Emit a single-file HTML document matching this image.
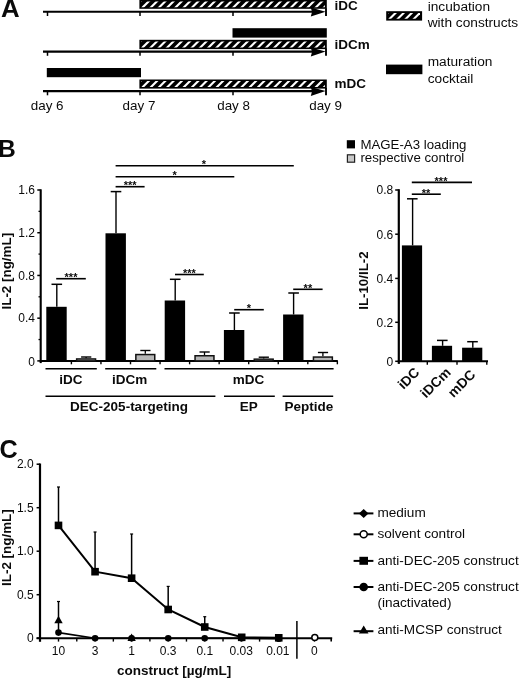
<!DOCTYPE html>
<html lang="en"><head><meta charset="utf-8"><title>Figure</title>
<style>
html,body{margin:0;padding:0;background:#fff;}
body{width:520px;height:678px;overflow:hidden;}
svg{display:block;font-family:"Liberation Sans", Arial, Helvetica, sans-serif;}
svg text{fill:#0a0a0a;}
</style></head><body>
<svg width="520" height="678" viewBox="0 0 520 678">
<rect x="0" y="0" width="520" height="678" fill="#fff"/>
<text x="0.9" y="17.4" font-size="25.8" font-weight="bold" text-anchor="start" >A</text>
<text x="-2.0" y="156.7" font-size="24.6" font-weight="bold" text-anchor="start" >B</text>
<text x="-0.6" y="457.6" font-size="25.2" font-weight="bold" text-anchor="start" >C</text>
<line x1="43" y1="11.8" x2="316" y2="11.8" stroke="#000" stroke-width="2.1" />
<polygon points="310.8,7.600000000000001 325.6,11.8 310.8,16.6 312.0,12.100000000000001" fill="#000"/>
<line x1="47.5" y1="11.8" x2="47.5" y2="16.0" stroke="#000" stroke-width="1.5" />
<line x1="140" y1="11.8" x2="140" y2="16.0" stroke="#000" stroke-width="1.5" />
<line x1="233" y1="11.8" x2="233" y2="16.0" stroke="#000" stroke-width="1.5" />
<line x1="326" y1="8.3" x2="326" y2="16.0" stroke="#000" stroke-width="1.9" />
<rect x="139.4" y="-0.2" width="187.4" height="9.0" fill="#000"/>
<clipPath id="hc1"><rect x="141.3" y="1.4000000000000001" width="183.59999999999997" height="5.800000000000001"/></clipPath>
<g clip-path="url(#hc1)" stroke="#fff" stroke-width="2.1">
<line x1="131.00" y1="10.80" x2="144.00" y2="-2.20"/>
<line x1="139.25" y1="10.80" x2="152.25" y2="-2.20"/>
<line x1="147.50" y1="10.80" x2="160.50" y2="-2.20"/>
<line x1="155.75" y1="10.80" x2="168.75" y2="-2.20"/>
<line x1="164.00" y1="10.80" x2="177.00" y2="-2.20"/>
<line x1="172.25" y1="10.80" x2="185.25" y2="-2.20"/>
<line x1="180.50" y1="10.80" x2="193.50" y2="-2.20"/>
<line x1="188.75" y1="10.80" x2="201.75" y2="-2.20"/>
<line x1="197.00" y1="10.80" x2="210.00" y2="-2.20"/>
<line x1="205.25" y1="10.80" x2="218.25" y2="-2.20"/>
<line x1="213.50" y1="10.80" x2="226.50" y2="-2.20"/>
<line x1="221.75" y1="10.80" x2="234.75" y2="-2.20"/>
<line x1="230.00" y1="10.80" x2="243.00" y2="-2.20"/>
<line x1="238.25" y1="10.80" x2="251.25" y2="-2.20"/>
<line x1="246.50" y1="10.80" x2="259.50" y2="-2.20"/>
<line x1="254.75" y1="10.80" x2="267.75" y2="-2.20"/>
<line x1="263.00" y1="10.80" x2="276.00" y2="-2.20"/>
<line x1="271.25" y1="10.80" x2="284.25" y2="-2.20"/>
<line x1="279.50" y1="10.80" x2="292.50" y2="-2.20"/>
<line x1="287.75" y1="10.80" x2="300.75" y2="-2.20"/>
<line x1="296.00" y1="10.80" x2="309.00" y2="-2.20"/>
<line x1="304.25" y1="10.80" x2="317.25" y2="-2.20"/>
<line x1="312.50" y1="10.80" x2="325.50" y2="-2.20"/>
<line x1="320.75" y1="10.80" x2="333.75" y2="-2.20"/>
<line x1="329.00" y1="10.80" x2="342.00" y2="-2.20"/>
</g>
<text x="334.5" y="9.7" font-size="13.5" font-weight="bold" text-anchor="start" >iDC</text>
<line x1="43" y1="51.6" x2="316" y2="51.6" stroke="#000" stroke-width="2.1" />
<polygon points="310.8,47.4 325.6,51.6 310.8,56.4 312.0,51.9" fill="#000"/>
<line x1="47.5" y1="51.6" x2="47.5" y2="55.800000000000004" stroke="#000" stroke-width="1.5" />
<line x1="140" y1="51.6" x2="140" y2="55.800000000000004" stroke="#000" stroke-width="1.5" />
<line x1="233" y1="51.6" x2="233" y2="55.800000000000004" stroke="#000" stroke-width="1.5" />
<line x1="326" y1="48.6" x2="326" y2="55.800000000000004" stroke="#000" stroke-width="1.9" />
<rect x="139.4" y="39.8" width="187.4" height="9.300000000000004" fill="#000"/>
<clipPath id="hc2"><rect x="141.3" y="41.4" width="183.59999999999997" height="6.100000000000001"/></clipPath>
<g clip-path="url(#hc2)" stroke="#fff" stroke-width="2.1">
<line x1="130.70" y1="51.10" x2="144.00" y2="37.80"/>
<line x1="138.95" y1="51.10" x2="152.25" y2="37.80"/>
<line x1="147.20" y1="51.10" x2="160.50" y2="37.80"/>
<line x1="155.45" y1="51.10" x2="168.75" y2="37.80"/>
<line x1="163.70" y1="51.10" x2="177.00" y2="37.80"/>
<line x1="171.95" y1="51.10" x2="185.25" y2="37.80"/>
<line x1="180.20" y1="51.10" x2="193.50" y2="37.80"/>
<line x1="188.45" y1="51.10" x2="201.75" y2="37.80"/>
<line x1="196.70" y1="51.10" x2="210.00" y2="37.80"/>
<line x1="204.95" y1="51.10" x2="218.25" y2="37.80"/>
<line x1="213.20" y1="51.10" x2="226.50" y2="37.80"/>
<line x1="221.45" y1="51.10" x2="234.75" y2="37.80"/>
<line x1="229.70" y1="51.10" x2="243.00" y2="37.80"/>
<line x1="237.95" y1="51.10" x2="251.25" y2="37.80"/>
<line x1="246.20" y1="51.10" x2="259.50" y2="37.80"/>
<line x1="254.45" y1="51.10" x2="267.75" y2="37.80"/>
<line x1="262.70" y1="51.10" x2="276.00" y2="37.80"/>
<line x1="270.95" y1="51.10" x2="284.25" y2="37.80"/>
<line x1="279.20" y1="51.10" x2="292.50" y2="37.80"/>
<line x1="287.45" y1="51.10" x2="300.75" y2="37.80"/>
<line x1="295.70" y1="51.10" x2="309.00" y2="37.80"/>
<line x1="303.95" y1="51.10" x2="317.25" y2="37.80"/>
<line x1="312.20" y1="51.10" x2="325.50" y2="37.80"/>
<line x1="320.45" y1="51.10" x2="333.75" y2="37.80"/>
<line x1="328.70" y1="51.10" x2="342.00" y2="37.80"/>
</g>
<text x="334.5" y="48.7" font-size="13.5" font-weight="bold" text-anchor="start" >iDCm</text>
<line x1="43" y1="91.1" x2="316" y2="91.1" stroke="#000" stroke-width="2.1" />
<polygon points="310.8,86.89999999999999 325.6,91.1 310.8,95.89999999999999 312.0,91.39999999999999" fill="#000"/>
<line x1="47.5" y1="91.1" x2="47.5" y2="95.3" stroke="#000" stroke-width="1.5" />
<line x1="140" y1="91.1" x2="140" y2="95.3" stroke="#000" stroke-width="1.5" />
<line x1="233" y1="91.1" x2="233" y2="95.3" stroke="#000" stroke-width="1.5" />
<line x1="326" y1="88.1" x2="326" y2="95.3" stroke="#000" stroke-width="1.9" />
<rect x="139.4" y="79.5" width="187.4" height="9.099999999999994" fill="#000"/>
<clipPath id="hc3"><rect x="141.3" y="81.1" width="183.59999999999997" height="5.900000000000006"/></clipPath>
<g clip-path="url(#hc3)" stroke="#fff" stroke-width="2.1">
<line x1="130.90" y1="90.60" x2="144.00" y2="77.50"/>
<line x1="139.15" y1="90.60" x2="152.25" y2="77.50"/>
<line x1="147.40" y1="90.60" x2="160.50" y2="77.50"/>
<line x1="155.65" y1="90.60" x2="168.75" y2="77.50"/>
<line x1="163.90" y1="90.60" x2="177.00" y2="77.50"/>
<line x1="172.15" y1="90.60" x2="185.25" y2="77.50"/>
<line x1="180.40" y1="90.60" x2="193.50" y2="77.50"/>
<line x1="188.65" y1="90.60" x2="201.75" y2="77.50"/>
<line x1="196.90" y1="90.60" x2="210.00" y2="77.50"/>
<line x1="205.15" y1="90.60" x2="218.25" y2="77.50"/>
<line x1="213.40" y1="90.60" x2="226.50" y2="77.50"/>
<line x1="221.65" y1="90.60" x2="234.75" y2="77.50"/>
<line x1="229.90" y1="90.60" x2="243.00" y2="77.50"/>
<line x1="238.15" y1="90.60" x2="251.25" y2="77.50"/>
<line x1="246.40" y1="90.60" x2="259.50" y2="77.50"/>
<line x1="254.65" y1="90.60" x2="267.75" y2="77.50"/>
<line x1="262.90" y1="90.60" x2="276.00" y2="77.50"/>
<line x1="271.15" y1="90.60" x2="284.25" y2="77.50"/>
<line x1="279.40" y1="90.60" x2="292.50" y2="77.50"/>
<line x1="287.65" y1="90.60" x2="300.75" y2="77.50"/>
<line x1="295.90" y1="90.60" x2="309.00" y2="77.50"/>
<line x1="304.15" y1="90.60" x2="317.25" y2="77.50"/>
<line x1="312.40" y1="90.60" x2="325.50" y2="77.50"/>
<line x1="320.65" y1="90.60" x2="333.75" y2="77.50"/>
<line x1="328.90" y1="90.60" x2="342.00" y2="77.50"/>
</g>
<text x="334.5" y="87.6" font-size="13.5" font-weight="bold" text-anchor="start" >mDC</text>
<rect x="232.5" y="28.2" width="94.30000000000001" height="9.4" fill="#000"/>
<rect x="46.8" y="68" width="94.2" height="9.2" fill="#000"/>
<text x="47.2" y="110" font-size="13.4" text-anchor="middle" >day 6</text>
<text x="139" y="110" font-size="13.4" text-anchor="middle" >day 7</text>
<text x="233.6" y="110" font-size="13.4" text-anchor="middle" >day 8</text>
<text x="325.6" y="110" font-size="13.4" text-anchor="middle" >day 9</text>
<rect x="386.2" y="11.2" width="35.900000000000034" height="9.400000000000002" fill="#000"/>
<clipPath id="hc4"><rect x="388.3" y="13.0" width="31.69999999999999" height="5.800000000000001"/></clipPath>
<g clip-path="url(#hc4)" stroke="#fff" stroke-width="2.1">
<line x1="377.80" y1="22.60" x2="391.20" y2="9.20"/>
<line x1="385.90" y1="22.60" x2="399.30" y2="9.20"/>
<line x1="394.00" y1="22.60" x2="407.40" y2="9.20"/>
<line x1="402.10" y1="22.60" x2="415.50" y2="9.20"/>
<line x1="410.20" y1="22.60" x2="423.60" y2="9.20"/>
<line x1="418.30" y1="22.60" x2="431.70" y2="9.20"/>
<line x1="426.40" y1="22.60" x2="439.80" y2="9.20"/>
</g>
<rect x="386" y="64.6" width="36.4" height="9.6" fill="#000"/>
<text x="427.7" y="10.6" font-size="13.7" text-anchor="start" >incubation</text>
<text x="427.7" y="27.1" font-size="13.7" text-anchor="start" >with constructs</text>
<text x="427.7" y="66.2" font-size="13.7" text-anchor="start" >maturation</text>
<text x="427.7" y="82.7" font-size="13.7" text-anchor="start" >cocktail</text>
<line x1="40.7" y1="189.3" x2="40.7" y2="363.09999999999997" stroke="#000" stroke-width="2.1" />
<line x1="39.7" y1="360.9" x2="337.8" y2="360.9" stroke="#000" stroke-width="2" />
<line x1="37.300000000000004" y1="360.9" x2="40.7" y2="360.9" stroke="#000" stroke-width="1.5" />
<text x="35" y="365.7" font-size="12" text-anchor="end" >0</text>
<line x1="37.300000000000004" y1="318.17499999999995" x2="40.7" y2="318.17499999999995" stroke="#000" stroke-width="1.5" />
<text x="35" y="322.37499999999994" font-size="12" text-anchor="end" >0.4</text>
<line x1="37.300000000000004" y1="275.45" x2="40.7" y2="275.45" stroke="#000" stroke-width="1.5" />
<text x="35" y="279.65" font-size="12" text-anchor="end" >0.8</text>
<line x1="37.300000000000004" y1="232.725" x2="40.7" y2="232.725" stroke="#000" stroke-width="1.5" />
<text x="35" y="236.92499999999998" font-size="12" text-anchor="end" >1.2</text>
<line x1="37.300000000000004" y1="190.0" x2="40.7" y2="190.0" stroke="#000" stroke-width="1.5" />
<text x="35" y="194.2" font-size="12" text-anchor="end" >1.6</text>
<line x1="38.5" y1="339.53749999999997" x2="40.7" y2="339.53749999999997" stroke="#000" stroke-width="1.3" />
<line x1="38.5" y1="296.8125" x2="40.7" y2="296.8125" stroke="#000" stroke-width="1.3" />
<line x1="38.5" y1="254.08749999999998" x2="40.7" y2="254.08749999999998" stroke="#000" stroke-width="1.3" />
<line x1="38.5" y1="211.3625" x2="40.7" y2="211.3625" stroke="#000" stroke-width="1.3" />
<text x="11.0" y="271.2" font-size="13.4" font-weight="bold" text-anchor="middle" transform="rotate(-90 11.0 271.2)" >IL-2 [ng/mL]</text>
<rect x="46.3" y="306.8" width="20.4" height="54.099999999999966" fill="#000"/>
<line x1="56.8" y1="284.3" x2="56.8" y2="306.8" stroke="#000" stroke-width="1.4" />
<line x1="51.5" y1="284.3" x2="62.1" y2="284.3" stroke="#000" stroke-width="1.5" />
<line x1="86.1" y1="357" x2="86.1" y2="358.2" stroke="#000" stroke-width="1.3" />
<line x1="81.1" y1="357" x2="91.3" y2="357" stroke="#000" stroke-width="1.4" />
<rect x="76.64999999999999" y="358.95" width="18.9" height="1.9499999999999886" fill="#b6b6b6" stroke="#111" stroke-width="1.5"/>
<rect x="105.5" y="233.3" width="20.4" height="127.59999999999997" fill="#000"/>
<line x1="116.0" y1="191.6" x2="116.0" y2="233.3" stroke="#000" stroke-width="1.4" />
<line x1="110.7" y1="191.6" x2="121.3" y2="191.6" stroke="#000" stroke-width="1.5" />
<line x1="145.3" y1="350.5" x2="145.3" y2="353.8" stroke="#000" stroke-width="1.3" />
<line x1="140.3" y1="350.5" x2="150.5" y2="350.5" stroke="#000" stroke-width="1.4" />
<rect x="135.85000000000002" y="354.55" width="18.9" height="6.349999999999966" fill="#b6b6b6" stroke="#111" stroke-width="1.5"/>
<rect x="164.70000000000002" y="300.5" width="20.4" height="60.39999999999998" fill="#000"/>
<line x1="175.20000000000002" y1="279.3" x2="175.20000000000002" y2="300.5" stroke="#000" stroke-width="1.4" />
<line x1="169.9" y1="279.3" x2="180.5" y2="279.3" stroke="#000" stroke-width="1.5" />
<line x1="204.5" y1="352" x2="204.5" y2="355" stroke="#000" stroke-width="1.3" />
<line x1="199.5" y1="352" x2="209.7" y2="352" stroke="#000" stroke-width="1.4" />
<rect x="195.05" y="355.75" width="18.9" height="5.149999999999977" fill="#b6b6b6" stroke="#111" stroke-width="1.5"/>
<rect x="223.90000000000003" y="330" width="20.4" height="30.899999999999977" fill="#000"/>
<line x1="234.40000000000003" y1="313" x2="234.40000000000003" y2="330" stroke="#000" stroke-width="1.4" />
<line x1="229.10000000000002" y1="313" x2="239.70000000000002" y2="313" stroke="#000" stroke-width="1.5" />
<line x1="263.70000000000005" y1="357.2" x2="263.70000000000005" y2="358.4" stroke="#000" stroke-width="1.3" />
<line x1="258.70000000000005" y1="357.2" x2="268.90000000000003" y2="357.2" stroke="#000" stroke-width="1.4" />
<rect x="254.25000000000006" y="359.15" width="18.9" height="1.75" fill="#b6b6b6" stroke="#111" stroke-width="1.5"/>
<rect x="283.1" y="314.5" width="20.4" height="46.39999999999998" fill="#000"/>
<line x1="293.6" y1="293" x2="293.6" y2="314.5" stroke="#000" stroke-width="1.4" />
<line x1="288.3" y1="293" x2="298.90000000000003" y2="293" stroke="#000" stroke-width="1.5" />
<line x1="322.90000000000003" y1="352.5" x2="322.90000000000003" y2="356.3" stroke="#000" stroke-width="1.3" />
<line x1="317.90000000000003" y1="352.5" x2="328.1" y2="352.5" stroke="#000" stroke-width="1.4" />
<rect x="313.45000000000005" y="357.05" width="18.9" height="3.849999999999966" fill="#b6b6b6" stroke="#111" stroke-width="1.5"/>
<line x1="71.4" y1="360.9" x2="71.4" y2="364.29999999999995" stroke="#000" stroke-width="1.4" />
<line x1="100.95" y1="360.9" x2="100.95" y2="364.29999999999995" stroke="#000" stroke-width="1.4" />
<line x1="130.5" y1="360.9" x2="130.5" y2="364.29999999999995" stroke="#000" stroke-width="1.4" />
<line x1="160.05" y1="360.9" x2="160.05" y2="364.29999999999995" stroke="#000" stroke-width="1.4" />
<line x1="189.60000000000002" y1="360.9" x2="189.60000000000002" y2="364.29999999999995" stroke="#000" stroke-width="1.4" />
<line x1="219.15" y1="360.9" x2="219.15" y2="364.29999999999995" stroke="#000" stroke-width="1.4" />
<line x1="248.70000000000002" y1="360.9" x2="248.70000000000002" y2="364.29999999999995" stroke="#000" stroke-width="1.4" />
<line x1="278.25" y1="360.9" x2="278.25" y2="364.29999999999995" stroke="#000" stroke-width="1.4" />
<line x1="307.8" y1="360.9" x2="307.8" y2="364.29999999999995" stroke="#000" stroke-width="1.4" />
<line x1="337.35" y1="360.9" x2="337.35" y2="364.29999999999995" stroke="#000" stroke-width="1.4" />
<line x1="115.6" y1="165.8" x2="293.8" y2="165.8" stroke="#000" stroke-width="1.6" />
<text x="203.8" y="168.4" font-size="11" font-weight="bold" text-anchor="middle" >*</text>
<line x1="115.6" y1="176.8" x2="234.3" y2="176.8" stroke="#000" stroke-width="1.6" />
<text x="174.6" y="179.4" font-size="11" font-weight="bold" text-anchor="middle" >*</text>
<line x1="115.6" y1="186.7" x2="144.6" y2="186.7" stroke="#000" stroke-width="1.6" />
<text x="130.2" y="189.29999999999998" font-size="11" font-weight="bold" text-anchor="middle" >***</text>
<line x1="56.2" y1="278.7" x2="85.8" y2="278.7" stroke="#000" stroke-width="1.6" />
<text x="71.0" y="281.3" font-size="11" font-weight="bold" text-anchor="middle" >***</text>
<line x1="175" y1="274.5" x2="203.8" y2="274.5" stroke="#000" stroke-width="1.6" />
<text x="189.4" y="277.1" font-size="11" font-weight="bold" text-anchor="middle" >***</text>
<line x1="234.2" y1="309.7" x2="263.8" y2="309.7" stroke="#000" stroke-width="1.6" />
<text x="249.0" y="312.3" font-size="11" font-weight="bold" text-anchor="middle" >*</text>
<line x1="293.2" y1="289.3" x2="322.6" y2="289.3" stroke="#000" stroke-width="1.6" />
<text x="307.9" y="291.90000000000003" font-size="11" font-weight="bold" text-anchor="middle" >**</text>
<line x1="45.5" y1="368.7" x2="96.8" y2="368.7" stroke="#000" stroke-width="1.5" />
<line x1="105.2" y1="368.7" x2="156.3" y2="368.7" stroke="#000" stroke-width="1.5" />
<line x1="164.5" y1="368.7" x2="333.6" y2="368.7" stroke="#000" stroke-width="1.5" />
<text x="70.9" y="383.7" font-size="13.5" font-weight="bold" text-anchor="middle" >iDC</text>
<text x="129.7" y="383.7" font-size="13.5" font-weight="bold" text-anchor="middle" >iDCm</text>
<text x="248.4" y="383.7" font-size="13.5" font-weight="bold" text-anchor="middle" >mDC</text>
<line x1="45.5" y1="396.3" x2="215.4" y2="396.3" stroke="#000" stroke-width="1.5" />
<line x1="224" y1="396.3" x2="274.8" y2="396.3" stroke="#000" stroke-width="1.5" />
<line x1="282.6" y1="396.3" x2="333.2" y2="396.3" stroke="#000" stroke-width="1.5" />
<text x="129" y="410.8" font-size="13.5" font-weight="bold" text-anchor="middle" >DEC-205-targeting</text>
<text x="248.8" y="410.8" font-size="13.5" font-weight="bold" text-anchor="middle" >EP</text>
<text x="308.8" y="410.8" font-size="13.5" font-weight="bold" text-anchor="middle" >Peptide</text>
<rect x="346.8" y="140.2" width="8.2" height="8.2" fill="#000"/>
<rect x="347.4" y="154.8" width="7.2" height="7.4" fill="#c8c8c8" stroke="#222" stroke-width="1.2"/>
<text x="360.4" y="148.8" font-size="13.25" text-anchor="start" >MAGE-A3 loading</text>
<text x="360.4" y="162.3" font-size="13.25" text-anchor="start" >respective control</text>
<line x1="398.8" y1="189.2" x2="398.8" y2="363.90000000000003" stroke="#000" stroke-width="2.2" />
<line x1="397.8" y1="361.3" x2="488" y2="361.3" stroke="#000" stroke-width="2" />
<line x1="395.2" y1="190" x2="398.8" y2="190" stroke="#000" stroke-width="1.5" />
<text x="393.2" y="194.3" font-size="12" text-anchor="end" >0.8</text>
<line x1="395.2" y1="234.2" x2="398.8" y2="234.2" stroke="#000" stroke-width="1.5" />
<text x="393.2" y="238.5" font-size="12" text-anchor="end" >0.6</text>
<line x1="395.2" y1="278.4" x2="398.8" y2="278.4" stroke="#000" stroke-width="1.5" />
<text x="393.2" y="282.7" font-size="12" text-anchor="end" >0.4</text>
<line x1="395.2" y1="322.3" x2="398.8" y2="322.3" stroke="#000" stroke-width="1.5" />
<text x="393.2" y="326.6" font-size="12" text-anchor="end" >0.2</text>
<line x1="395.2" y1="361.3" x2="398.8" y2="361.3" stroke="#000" stroke-width="1.5" />
<text x="393.2" y="365.6" font-size="12" text-anchor="end" >0</text>
<text x="368.4" y="280.6" font-size="13.3" font-weight="bold" text-anchor="middle" transform="rotate(-90 368.4 280.6)" >IL-10/IL-2</text>
<rect x="401.9" y="245.4" width="20.2" height="115.9" fill="#000"/>
<line x1="412.6" y1="198.8" x2="412.6" y2="245.4" stroke="#000" stroke-width="1.4" />
<line x1="407" y1="198.8" x2="417.6" y2="198.8" stroke="#000" stroke-width="1.5" />
<rect x="431.9" y="345.8" width="20.2" height="15.5" fill="#000"/>
<line x1="442.6" y1="340.4" x2="442.6" y2="345.8" stroke="#000" stroke-width="1.4" />
<line x1="437" y1="340.4" x2="447.6" y2="340.4" stroke="#000" stroke-width="1.5" />
<rect x="462.09999999999997" y="347.7" width="20.2" height="13.600000000000023" fill="#000"/>
<line x1="472.8" y1="341.7" x2="472.8" y2="347.7" stroke="#000" stroke-width="1.4" />
<line x1="467.2" y1="341.7" x2="477.8" y2="341.7" stroke="#000" stroke-width="1.5" />
<line x1="427.3" y1="361.3" x2="427.3" y2="364.7" stroke="#000" stroke-width="1.4" />
<line x1="457" y1="361.3" x2="457" y2="364.7" stroke="#000" stroke-width="1.4" />
<line x1="486.8" y1="361.3" x2="486.8" y2="364.7" stroke="#000" stroke-width="1.4" />
<line x1="411.8" y1="182.4" x2="472" y2="182.4" stroke="#000" stroke-width="1.6" />
<text x="441" y="185.0" font-size="11" font-weight="bold" text-anchor="middle" >***</text>
<line x1="411.8" y1="194.2" x2="440.8" y2="194.2" stroke="#000" stroke-width="1.6" />
<text x="426" y="196.79999999999998" font-size="11" font-weight="bold" text-anchor="middle" >**</text>
<text x="420.4" y="373.3" font-size="13.8" font-weight="bold" text-anchor="end" transform="rotate(-45 420.4 373.3)" >iDC</text>
<text x="451.6" y="373.3" font-size="13.8" font-weight="bold" text-anchor="end" transform="rotate(-45 451.6 373.3)" >iDCm</text>
<text x="476.4" y="375.4" font-size="13.8" font-weight="bold" text-anchor="end" transform="rotate(-45 476.4 375.4)" >mDC</text>
<line x1="40" y1="463.5" x2="40" y2="641.8000000000001" stroke="#000" stroke-width="2.2" />
<line x1="36.6" y1="638.2" x2="332.2" y2="638.2" stroke="#000" stroke-width="2" />
<line x1="331.2" y1="638.2" x2="331.2" y2="641.6" stroke="#000" stroke-width="1.6" />
<line x1="36.6" y1="638.2" x2="40" y2="638.2" stroke="#000" stroke-width="1.5" />
<text x="33.6" y="642.4000000000001" font-size="12" text-anchor="end" >0</text>
<line x1="36.6" y1="594.7" x2="40" y2="594.7" stroke="#000" stroke-width="1.5" />
<text x="33.6" y="598.9000000000001" font-size="12" text-anchor="end" >0.5</text>
<line x1="36.6" y1="551.2" x2="40" y2="551.2" stroke="#000" stroke-width="1.5" />
<text x="33.6" y="555.4000000000001" font-size="12" text-anchor="end" >1.0</text>
<line x1="36.6" y1="507.7" x2="40" y2="507.7" stroke="#000" stroke-width="1.5" />
<text x="33.6" y="511.9" font-size="12" text-anchor="end" >1.5</text>
<line x1="36.6" y1="464.2" x2="40" y2="464.2" stroke="#000" stroke-width="1.5" />
<text x="33.6" y="468.4" font-size="12" text-anchor="end" >2.0</text>
<text x="11.2" y="547.6" font-size="13.4" font-weight="bold" text-anchor="middle" transform="rotate(-90 11.2 547.6)" >IL-2 [ng/mL]</text>
<line x1="58.5" y1="638.2" x2="58.5" y2="641.6" stroke="#000" stroke-width="1.4" />
<text x="58.5" y="654.6" font-size="12" text-anchor="middle" >10</text>
<line x1="76.78" y1="638.2" x2="76.78" y2="641.6" stroke="#000" stroke-width="1.4" />
<line x1="95.06" y1="638.2" x2="95.06" y2="641.6" stroke="#000" stroke-width="1.4" />
<text x="95.06" y="654.6" font-size="12" text-anchor="middle" >3</text>
<line x1="113.34" y1="638.2" x2="113.34" y2="641.6" stroke="#000" stroke-width="1.4" />
<line x1="131.62" y1="638.2" x2="131.62" y2="641.6" stroke="#000" stroke-width="1.4" />
<text x="131.62" y="654.6" font-size="12" text-anchor="middle" >1</text>
<line x1="149.9" y1="638.2" x2="149.9" y2="641.6" stroke="#000" stroke-width="1.4" />
<line x1="168.18" y1="638.2" x2="168.18" y2="641.6" stroke="#000" stroke-width="1.4" />
<text x="168.18" y="654.6" font-size="12" text-anchor="middle" >0.3</text>
<line x1="186.46" y1="638.2" x2="186.46" y2="641.6" stroke="#000" stroke-width="1.4" />
<line x1="204.74" y1="638.2" x2="204.74" y2="641.6" stroke="#000" stroke-width="1.4" />
<text x="204.74" y="654.6" font-size="12" text-anchor="middle" >0.1</text>
<line x1="223.02" y1="638.2" x2="223.02" y2="641.6" stroke="#000" stroke-width="1.4" />
<line x1="241.3" y1="638.2" x2="241.3" y2="641.6" stroke="#000" stroke-width="1.4" />
<text x="241.3" y="654.6" font-size="12" text-anchor="middle" >0.03</text>
<line x1="259.58000000000004" y1="638.2" x2="259.58000000000004" y2="641.6" stroke="#000" stroke-width="1.4" />
<line x1="277.86" y1="638.2" x2="277.86" y2="641.6" stroke="#000" stroke-width="1.4" />
<text x="277.86" y="654.6" font-size="12" text-anchor="middle" >0.01</text>
<line x1="314.42" y1="638.2" x2="314.42" y2="641.6" stroke="#000" stroke-width="1.4" />
<text x="314.42" y="654.6" font-size="12" text-anchor="middle" >0</text>
<line x1="296.9" y1="621" x2="296.9" y2="658.8" stroke="#000" stroke-width="1.5" />
<text x="174.2" y="675" font-size="13.5" font-weight="bold" text-anchor="middle" >construct [µg/mL]</text>
<polyline points="58.5,525.4 95.1,571.7 131.6,578.2 168.2,609.5 204.7,627 241.7,637.3 278.8,637.8" fill="none" stroke="#000" stroke-width="2"/>
<line x1="58.5" y1="487" x2="58.5" y2="525.4" stroke="#000" stroke-width="1.5" />
<line x1="57.0" y1="487" x2="60.0" y2="487" stroke="#000" stroke-width="1.2" />
<rect x="54.7" y="521.6" width="7.6" height="7.6" fill="#000"/>
<line x1="95.06" y1="532" x2="95.06" y2="571.7" stroke="#000" stroke-width="1.5" />
<line x1="93.56" y1="532" x2="96.56" y2="532" stroke="#000" stroke-width="1.2" />
<rect x="91.26" y="567.9000000000001" width="7.6" height="7.6" fill="#000"/>
<line x1="131.62" y1="534" x2="131.62" y2="578.2" stroke="#000" stroke-width="1.5" />
<line x1="130.12" y1="534" x2="133.12" y2="534" stroke="#000" stroke-width="1.2" />
<rect x="127.82000000000001" y="574.4000000000001" width="7.6" height="7.6" fill="#000"/>
<line x1="168.18" y1="586.4" x2="168.18" y2="609.5" stroke="#000" stroke-width="1.5" />
<line x1="166.68" y1="586.4" x2="169.68" y2="586.4" stroke="#000" stroke-width="1.2" />
<rect x="164.38" y="605.7" width="7.6" height="7.6" fill="#000"/>
<line x1="204.74" y1="616.7" x2="204.74" y2="627" stroke="#000" stroke-width="1.5" />
<line x1="203.24" y1="616.7" x2="206.24" y2="616.7" stroke="#000" stroke-width="1.2" />
<rect x="200.94" y="623.2" width="7.6" height="7.6" fill="#000"/>
<rect x="237.9" y="633.5" width="7.6" height="7.6" fill="#000"/>
<rect x="274.96" y="634.0" width="7.6" height="7.6" fill="#000"/>
<polyline points="58.5,632.6 95.1,638.2 131.6,638.2 168.2,638.2 204.7,638.2 241.7,638.2 278.8,638.7" fill="none" stroke="#000" stroke-width="1.6"/>
<circle cx="58.5" cy="632.6" r="3.3" fill="#000"/>
<circle cx="95.1" cy="638.2" r="3.3" fill="#000"/>
<circle cx="131.6" cy="638.2" r="3.3" fill="#000"/>
<circle cx="168.2" cy="638.2" r="3.3" fill="#000"/>
<circle cx="204.7" cy="638.2" r="3.3" fill="#000"/>
<circle cx="241.7" cy="638.2" r="3.3" fill="#000"/>
<circle cx="278.8" cy="638.7" r="3.3" fill="#000"/>
<line x1="58.5" y1="601.5" x2="58.5" y2="632" stroke="#000" stroke-width="1.5" />
<line x1="57.0" y1="601.5" x2="60.0" y2="601.5" stroke="#000" stroke-width="1.2" />
<polygon points="58.5,615.8 62.7,623.36 54.3,623.36" fill="#000"/>
<polygon points="131.62,633.4 135.82,640.96 127.42,640.96" fill="#000"/>
<circle cx="314.8" cy="637.6" r="3.0" fill="#fff" stroke="#000" stroke-width="1.5"/>
<line x1="353.6" y1="513.4" x2="373.4" y2="513.4" stroke="#000" stroke-width="2" />
<polygon points="358.9,513.4 363.7,508.9 368.5,513.4 363.7,517.9" fill="#000"/>
<line x1="353.6" y1="534.3" x2="373.4" y2="534.3" stroke="#000" stroke-width="2" />
<circle cx="363.7" cy="534.3" r="3.5" fill="#fff" stroke="#000" stroke-width="1.5"/>
<line x1="353.6" y1="560.9" x2="373.4" y2="560.9" stroke="#000" stroke-width="2" />
<rect x="359.4" y="556.8" width="8.6" height="8.0" fill="#000"/>
<line x1="353.6" y1="587" x2="373.4" y2="587" stroke="#000" stroke-width="2" />
<circle cx="363.7" cy="587" r="4.3" fill="#000"/>
<line x1="353.6" y1="631.2" x2="373.4" y2="631.2" stroke="#000" stroke-width="2" />
<polygon points="363.7,625.4 368.5,633.6 358.9,633.6" fill="#000"/>
<text x="377.4" y="516.8" font-size="13.6" text-anchor="start" >medium</text>
<text x="377.4" y="538.2" font-size="13.6" text-anchor="start" >solvent control</text>
<text x="377.4" y="564.7" font-size="13.6" text-anchor="start" >anti-DEC-205 construct</text>
<text x="377.4" y="590.6" font-size="13.6" text-anchor="start" >anti-DEC-205 construct</text>
<text x="377.4" y="606.6" font-size="13.6" text-anchor="start" >(inactivated)</text>
<text x="377.4" y="633.8" font-size="13.6" text-anchor="start" >anti-MCSP construct</text>
</svg>
</body></html>
